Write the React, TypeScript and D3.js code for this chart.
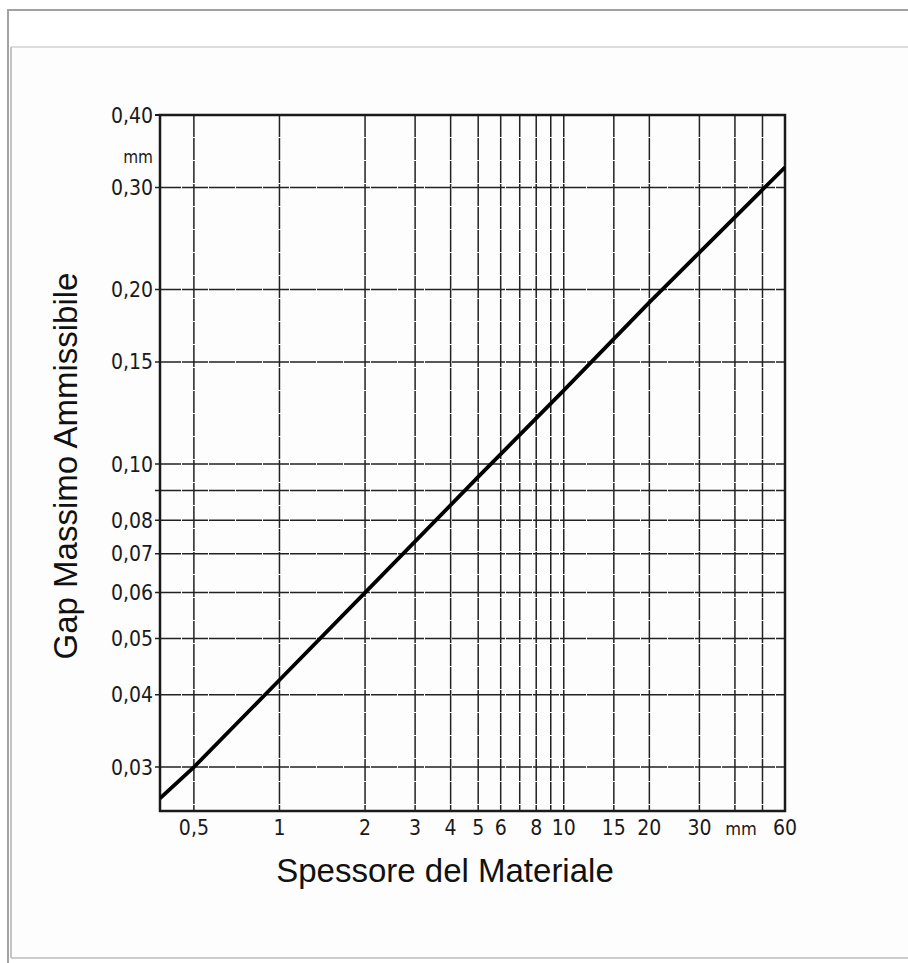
import React from 'react';
import * as d3 from 'd3';

// material thickness (mm) vs max admissible gap (mm)
const thickness = [0.38, 0.5, 1, 2, 5, 10, 20, 60];
const gap = [0.0265, 0.03, 0.0424, 0.06, 0.095, 0.134, 0.19, 0.325];

const xGrid = [0.5, 1, 2, 3, 4, 5, 6, 7, 8, 9, 10, 15, 20, 30, 40, 50];
const xLabels = ['0,5', '1', '2', '3', '4', '5', '6', '', '8', '', '10', '15', '20', '30', 'mm', ''];
const yGrid = [0.03, 0.04, 0.05, 0.06, 0.07, 0.08, 0.09, 0.1, 0.15, 0.2, 0.3];
const yLabels = ['0,03', '0,04', '0,05', '0,06', '0,07', '0,08', '', '0,10', '0,15', '0,20', '0,30'];

const W = 908;
const H = 963;
const plot = { left: 160, right: 785, top: 115, bottom: 811 };
const tickFont = '"DejaVu Sans Condensed", "Liberation Sans Narrow", sans-serif';
const titleFont = "'Liberation Sans', Arial, sans-serif";

export default function App() {
  const x = d3.scaleLog().domain([0.38, 60]).range([plot.left, plot.right]);
  const y = d3.scaleLog().domain([0.0252, 0.4]).range([plot.bottom, plot.top]);

  const pts = thickness.map((t, i) => [t, gap[i]] as [number, number]);
  const line = d3.line<[number, number]>().x((d) => x(d[0])).y((d) => y(d[1]));

  return (
    <div style={{ position: 'absolute', left: 0, top: 0 }}>
      <svg width={W} height={H} style={{ display: 'block', background: '#fff' }}>
        {/* page frame */}
        <rect x={11} y={47} width={W} height={911} fill="#fdfdfd" />
        <line x1={7} x2={W} y1={10} y2={10} stroke="#a2a2a2" strokeWidth={2} />
        <line x1={8} x2={8} y1={9} y2={H} stroke="#a2a2a2" strokeWidth={2} />
        <line x1={11} x2={W} y1={47} y2={47} stroke="#bdbdbd" strokeWidth={1} />
        <line x1={11} x2={11} y1={47} y2={958} stroke="#c4c4c4" strokeWidth={2} />
        <line x1={11} x2={W} y1={958} y2={958} stroke="#bdbdbd" strokeWidth={1.5} />

        <defs>
          <clipPath id="plotClip">
            <rect x={plot.left} y={plot.top} width={plot.right - plot.left} height={plot.bottom - plot.top} />
          </clipPath>
        </defs>

        {/* grid */}
        {xGrid.map((v) => (
          <line key={'vx' + v} x1={x(v)} x2={x(v)} y1={plot.top} y2={plot.bottom}
            stroke="#222" strokeWidth={1.5} strokeDasharray="22 1" />
        ))}
        {yGrid.map((v) => (
          <line key={'hy' + v} x1={plot.left - 5} x2={plot.right} y1={y(v)} y2={y(v)}
            stroke="#222" strokeWidth={1.5} strokeDasharray="26 1" />
        ))}

        {/* frame */}
        <rect x={plot.left} y={plot.top} width={plot.right - plot.left} height={plot.bottom - plot.top}
          fill="none" stroke="#1a1a1a" strokeWidth={2.5} />
        <line x1={plot.left - 5} x2={plot.left} y1={plot.top} y2={plot.top} stroke="#1a1a1a" strokeWidth={2} />

        {/* curve */}
        <path d={line(pts) || ''} fill="none" stroke="#000" strokeWidth={3.8} clipPath="url(#plotClip)" />

        {/* y tick labels */}
        <g fontFamily={tickFont} fontSize={21} fill="#1a1a1a" textAnchor="end">
          {yGrid.map((v, i) => (
            <text key={'yl' + v} x={plot.left - 7} y={y(v)} dy="0.36em">{yLabels[i]}</text>
          ))}
          <text x={plot.left - 7} y={y(0.4)} dy="0.36em">0,40</text>
          <text x={plot.left - 7} y={163} fontSize={17}>mm</text>
        </g>

        {/* x tick labels */}
        <g fontFamily={tickFont} fontSize={21} fill="#1a1a1a" textAnchor="middle">
          {xGrid.map((v, i) => (
            xLabels[i] ? (
              <text key={'xl' + v} x={x(v) + (xLabels[i] === 'mm' ? 6 : 0)} y={835}
                fontSize={xLabels[i] === 'mm' ? 18 : 21}>
                {xLabels[i]}
              </text>
            ) : null
          ))}
          <text x={plot.right} y={835}>60</text>
        </g>

        {/* axis titles */}
        <text x={445} y={882} textAnchor="middle" fontFamily={titleFont}
          fontSize={33} fill="#111">Spessore del Materiale</text>
        <text transform="translate(77,466) rotate(-90)" textAnchor="middle"
          fontFamily={titleFont} fontSize={33} fill="#111">
          Gap Massimo Ammissibile
        </text>
      </svg>
    </div>
  );
}
